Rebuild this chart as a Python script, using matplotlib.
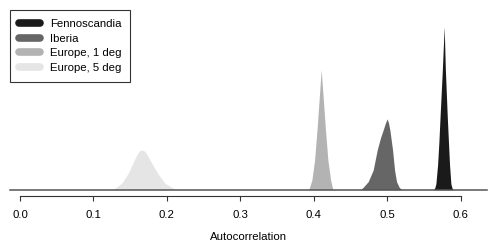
import matplotlib
matplotlib.use("Agg")
import matplotlib.pyplot as plt
from matplotlib.lines import Line2D

plt.rcParams['font.family'] = ['Liberation Sans', 'DejaVu Sans']

# density outlines (x = autocorrelation, y = density)
fenno_x = [0.5630, 0.5650, 0.5664, 0.5687, 0.5705, 0.5722, 0.5752, 0.5777, 0.5793, 0.5818, 0.5835, 0.5850, 0.5868, 0.5882, 0.5895]
fenno_y = [0.0, 1.5, 4.4, 18.1, 35.0, 54.7, 87.8, 119.3, 87.8, 54.7, 35.0, 18.1, 4.4, 1.5, 0.0]

iberia_x = [0.4639, 0.4674, 0.4742, 0.4810, 0.4865, 0.4910, 0.4946, 0.4975, 0.5001, 0.5020, 0.5037, 0.5074, 0.5101, 0.5128, 0.5164, 0.5197]
iberia_y = [0.0, 1.8, 5.9, 14.4, 29.1, 38.0, 43.7, 48.5, 51.8, 48.5, 43.7, 29.1, 14.4, 5.9, 1.8, 0.0]

eur1_x = [0.3928, 0.3939, 0.3975, 0.4012, 0.4048, 0.4080, 0.4092, 0.4102, 0.4112, 0.4125, 0.4157, 0.4193, 0.4230, 0.4257, 0.4268]
eur1_y = [0.0, 1.0, 7.1, 21.7, 46.1, 70.6, 80.0, 87.6, 80.0, 70.6, 46.1, 21.7, 7.1, 1.0, 0.0]

eur5_x = [0.1253, 0.1293, 0.1385, 0.1474, 0.1556, 0.1603, 0.1630, 0.1657, 0.1690, 0.1720, 0.1770, 0.1830, 0.1875, 0.1974, 0.2087, 0.2124]
eur5_y = [0.0, 1.0, 4.7, 12.0, 21.7, 26.6, 28.4, 29.1, 28.4, 26.6, 21.7, 16.0, 12.0, 4.7, 1.0, 0.0]

labels = ["Fennoscandia", "Iberia", "Europe, 1 deg", "Europe, 5 deg"]
colors = ["#1a1a1a", "#666666", "#b3b3b3", "#e5e5e5"]
tick_vals = [0.0, 0.1, 0.2, 0.3, 0.4, 0.5, 0.6]

fig = plt.figure(figsize=(4.98, 2.49), dpi=100)
ax = fig.add_axes([10 / 498, 1 - 189.7 / 249, 477 / 498, 171 / 249])

curves = [(fenno_x, fenno_y), (iberia_x, iberia_y), (eur1_x, eur1_y), (eur5_x, eur5_y)]
for (xs, ys), col in zip(curves, colors):
    ax.fill_between(xs, 0, ys, color=col, linewidth=0)

ax.axhline(0, color="#555555", lw=1.1, clip_on=False)

ax.set_xlim(-0.0136, 0.636)
ax.set_ylim(0, 125)

for s in ["top", "left", "right"]:
    ax.spines[s].set_visible(False)
ax.spines["bottom"].set_bounds(0, 0.6)
ax.spines["bottom"].set_position(("outward", 4.75))
ax.spines["bottom"].set_color("#333333")
ax.spines["bottom"].set_linewidth(0.8)
ax.set_yticks([])
ax.set_xticks(tick_vals)
ax.set_xticklabels([f"{v:.1f}" for v in tick_vals])
ax.tick_params(axis="x", direction="out", length=3.6, width=0.8, color="#333333",
               labelsize=8.2, pad=6.5)
ax.set_xlabel("Autocorrelation", fontsize=8.2, labelpad=8.5)

handles = [Line2D([0], [0], color=c, lw=5.5, solid_capstyle="round") for c in colors]
leg = fig.legend(handles, labels, loc="upper left",
                 bbox_to_anchor=(10 / 498, 1 - 10 / 249), bbox_transform=fig.transFigure,
                 borderaxespad=0, fontsize=8.2, frameon=True, fancybox=False,
                 handlelength=1.8, handletextpad=0.9, labelspacing=0.4,
                 borderpad=0.8)
leg.get_frame().set_edgecolor("black")
leg.get_frame().set_linewidth(0.8)

fig.savefig("out.png", dpi=100)
